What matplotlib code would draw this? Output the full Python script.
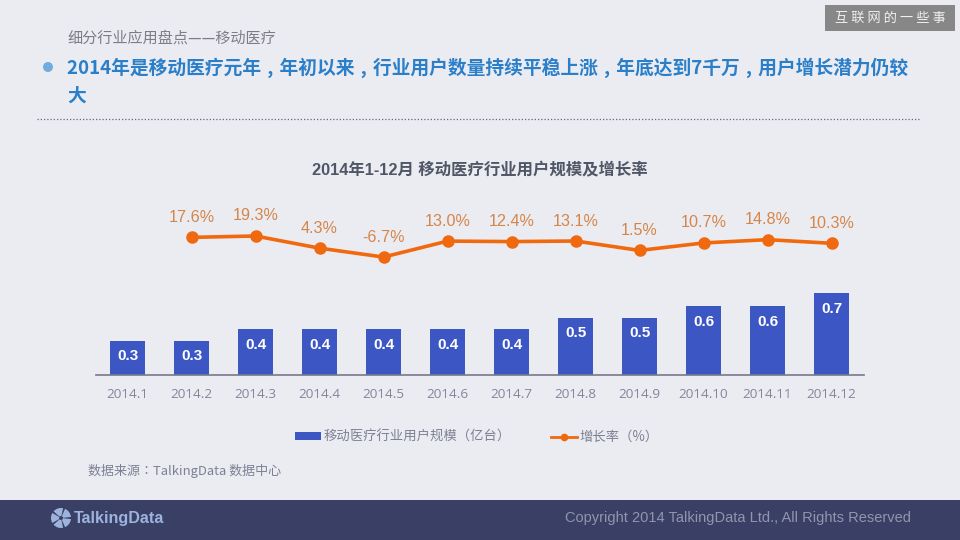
import matplotlib
matplotlib.use("Agg")
import matplotlib.pyplot as plt
from matplotlib.lines import Line2D
from matplotlib.patches import Rectangle, Circle, Wedge

months = ["2014.1","2014.2","2014.3","2014.4","2014.5","2014.6","2014.7","2014.8","2014.9","2014.10","2014.11","2014.12"]
users = [0.3,0.3,0.4,0.4,0.4,0.4,0.4,0.5,0.5,0.6,0.6,0.71]
growth_months = months[1:]
growth = [17.6,19.3,4.3,-6.7,13.0,12.4,13.1,1.5,10.7,14.8,10.3]
bar_name = "移动医疗行业用户规模（亿台）"
line_name = "增长率（%）"

CJK = ["Noto Sans CJK TC", "DejaVu Sans"]
SC = ["Noto Sans CJK SC", "DejaVu Sans"]
W, H = 960, 540
fig = plt.figure(figsize=(W/100, H/100), dpi=100, facecolor="#ebecf1")

# page layer in pixel coordinates
bg = fig.add_axes([0, 0, 1, 1])
bg.set_xlim(0, W); bg.set_ylim(H, 0); bg.axis("off")
bg.add_patch(Rectangle((0, 500), W, 40, fc="#3a3f66", ec="none"))
bg.add_patch(Rectangle((825, 5), 130, 26, fc="#878787", ec="none"))
bg.text(890, 18, "互 联 网 的 一 些 事", color="#f0f0f0", fontsize=9.5, family=SC, ha="center", va="center")
bg.text(67, 38, "细分行业应用盘点——移动医疗", color="#7d7d88", fontsize=10.9, family=SC, va="center")
bg.add_patch(Circle((48, 67), 5, fc="#72abe0", ec="none"))
tc = "#2b7fc9"
comma = "\u2004,\u2004"
headline = comma.join(["2014年是移动医疗元年", "年初以来", "行业用户数量持续平稳上涨", "年底达到7千万", "用户增长潜力仍较"])
bg.text(67, 68, headline, color=tc, fontsize=13.5, fontweight="bold", family=SC, va="center")
bg.text(67, 96, "大", color=tc, fontsize=13.5, fontweight="bold", family=SC, va="center")
bg.plot([37, 921], [119, 119], color="#5d6a85", lw=0.9, ls=(0, (1, 1.6)))
bg.text(480, 170, "2014年1-12月 移动医疗行业用户规模及增长率", color="#4f5666", fontsize=11.8,
        fontweight="bold", family=["Liberation Sans", "Noto Sans CJK SC"], ha="center", va="center")
bg.text(88, 471, "数据来源：TalkingData 数据中心", color="#7d8094", fontsize=9.4, family=CJK, va="center")
bg.text(911, 518, "Copyright 2014 TalkingData Ltd., All Rights Reserved", color="#9195ad", fontsize=10.5,
        family="Liberation Sans", ha="right", va="center")
# logo
lc = "#9db3dc"
for a in range(0, 360, 72):
    bg.add_patch(Wedge((61, 518), 10, a + 6, a + 66, width=8, fc=lc, ec="none"))
bg.text(74, 519, "TalkingData", color=lc, fontsize=11.6, fontweight="bold",
        family="Liberation Sans", va="center")

# chart
L, R, B, T = 95.5, 863.5, 375.0, 175.0
ax = fig.add_axes([L/W, 1-B/H, (R-L)/W, (B-T)/H])
ax.patch.set_alpha(0)
x = list(range(len(months)))
xmap = {m: i for i, m in enumerate(months)}
bars = ax.bar(x, users, width=0.56, color="#3c57c4", label=bar_name)
ax.set_xlim(-0.5, 11.5)
ax.set_ylim(0, 200/115)
ax.set_xticks(x, months, color="#83869a", fontsize=9.7, family="Open Sans")
ax.tick_params(axis="x", length=0, pad=9)
ax.set_yticks([])
for s in ("top", "left", "right"):
    ax.spines[s].set_visible(False)
ax.spines["bottom"].set_color("#77798a")
ax.spines["bottom"].set_linewidth(1.2)
for xi, v in zip(x, users):
    ax.annotate(f"{v:.1f}", (xi, v), xytext=(0, -11.5), textcoords="offset points", color="white",
                fontsize=11, fontweight="bold", family="Liberation Sans", ha="center", va="center")

ax2 = ax.twinx()
ax2.patch.set_alpha(0)
ax2.axis("off")
ax2.set_ylim(-152.3, 94.6)
gx = [xmap[m] for m in growth_months]
ax2.plot(gx, growth, color="#f0690f", lw=2.6, marker="o", ms=8, label=line_name)
for xi, v in zip(gx, growth):
    ax2.annotate(f"{v:.1f}%", (xi, v), xytext=(0, 9), textcoords="offset points", color="#d5854a",
                 fontsize=11.6, family="Liberation Sans", ha="center", va="bottom")

proxy = Line2D([], [], color="#f0690f", lw=2, marker="o", ms=4.5)
fig.legend(handles=[bars, proxy], labels=[bar_name, line_name], loc="center", bbox_to_anchor=(477/W, 1-437/H),
           ncol=2, frameon=False, prop={"family": CJK, "size": 9.6}, labelcolor="#7d8094",
           handlelength=1.95, handleheight=0.55, handletextpad=0.2, columnspacing=3.0,
           borderpad=0, borderaxespad=0)

fig.savefig("out.png", dpi=100, facecolor=fig.get_facecolor())
